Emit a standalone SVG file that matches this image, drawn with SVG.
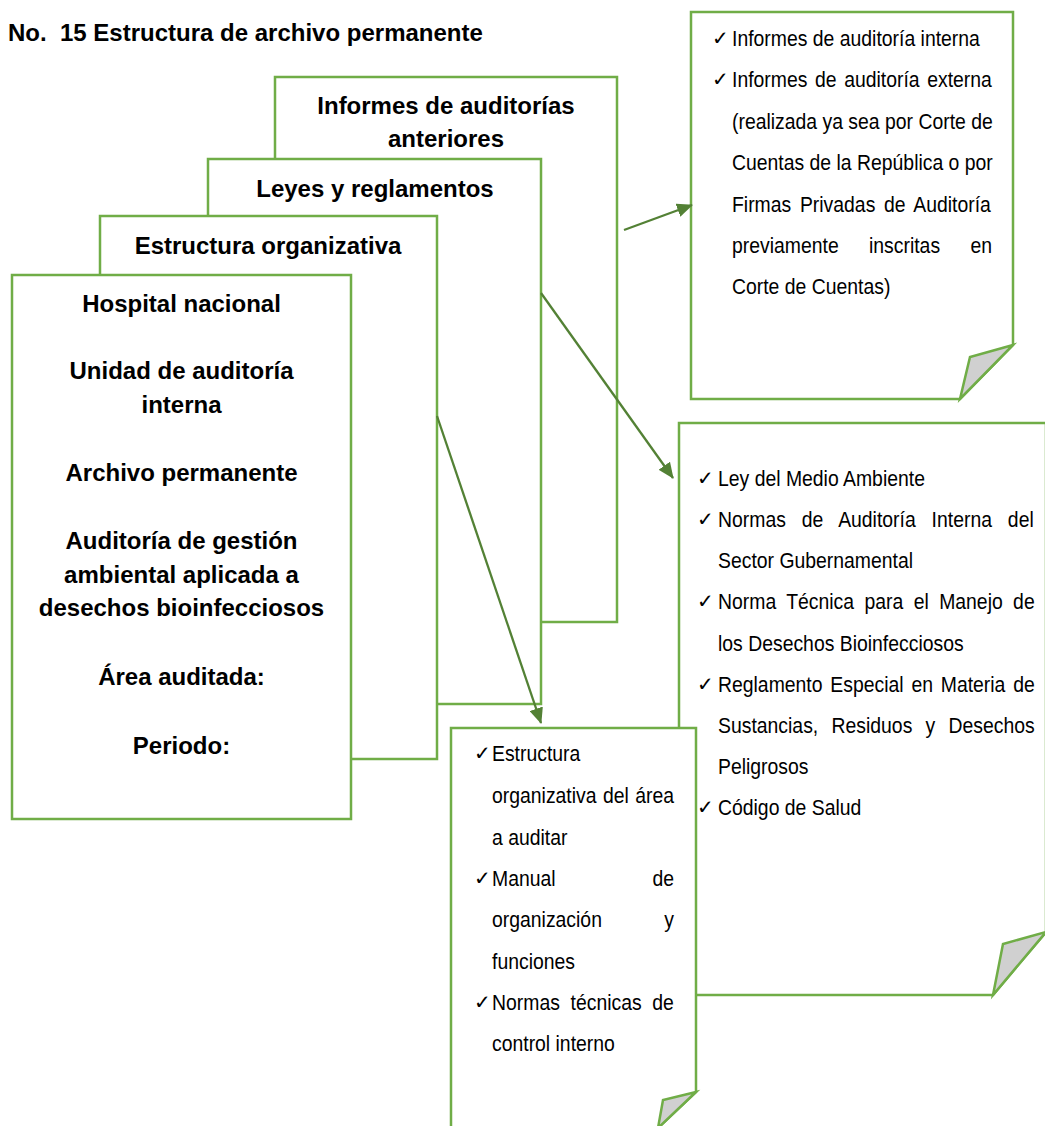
<svg xmlns="http://www.w3.org/2000/svg" width="1045" height="1126" viewBox="0 0 1045 1126">
  <style>
    .box { fill: #ffffff; stroke: #70ad47; stroke-width: 2.5; }
    .fold { fill: #d0d0d0; stroke: #70ad47; stroke-width: 2.5; stroke-linejoin: miter; }
    .hd { font-family: "Liberation Sans", Arial, sans-serif; font-weight: bold; font-size: 24px; fill: #000; text-anchor: middle; }
    .ttl { font-family: "Liberation Sans", Arial, sans-serif; font-weight: bold; font-size: 24px; fill: #000; }
    .tx { font-family: "Liberation Sans", Arial, sans-serif; font-size: 19.4px; fill: #000; }
    .end { text-anchor: end; }
    .ck { font-family: "DejaVu Sans", sans-serif; font-size: 20px; fill: #000; }
    .conn { stroke: #538135; stroke-width: 2.3; fill: none; }
  </style>
  <defs>
    <marker id="ah" viewBox="0 0 16 14" refX="15" refY="7" markerWidth="16" markerHeight="14" markerUnits="userSpaceOnUse" orient="auto">
      <path d="M0,0 L16,7 L0,14 Z" fill="#538135"/>
    </marker>
  </defs>

  <text class="ttl" x="8" y="41" xml:space="preserve">No.  15 Estructura de archivo permanente</text>

  <g id="box-informes">
    <rect class="box" x="275" y="77" width="342" height="545"/>
    <text class="hd" x="446" y="114">Informes de auditorías</text>
    <text class="hd" x="446" y="147">anteriores</text>
  </g>

  <g id="box-leyes">
    <rect class="box" x="208" y="159" width="333" height="545"/>
    <text class="hd" x="375" y="197">Leyes y reglamentos</text>
  </g>

  <g id="box-estructura">
    <rect class="box" x="100" y="216" width="337" height="543"/>
    <text class="hd" x="268" y="254">Estructura organizativa</text>
  </g>

  <g id="box-hospital">
    <rect class="box" x="12" y="275" width="339" height="544"/>
    <text class="hd" x="181.5" y="312">Hospital nacional</text>
    <text class="hd" x="181.5" y="379">Unidad de auditoría</text>
    <text class="hd" x="181.5" y="413">interna</text>
    <text class="hd" x="181.5" y="481">Archivo permanente</text>
    <text class="hd" x="181.5" y="549">Auditoría de gestión</text>
    <text class="hd" x="181.5" y="583">ambiental aplicada a</text>
    <text class="hd" x="181.5" y="616">desechos bioinfecciosos</text>
    <text class="hd" x="181.5" y="685">Área auditada:</text>
    <text class="hd" x="181.5" y="754">Periodo:</text>
  </g>

  <g id="note-informes">
    <path class="box" d="M691,12 H1013 V345 L960,399 H691 Z"/>
    <path class="fold" d="M1013,345 L970,357 L960,399 Z"/>
    <text class="ck" x="712" y="45">✓</text>
    <text class="tx" x="732" y="0" transform="translate(0,46) scale(1,1.18)">Informes de auditoría interna</text>
    <text class="ck" x="712" y="86">✓</text>
    <text class="tx" x="732" y="0" transform="translate(0,87) scale(1,1.18)" word-spacing="2.2">Informes de auditoría externa</text>
    <text class="tx" x="732" y="0" transform="translate(0,129) scale(1,1.18)">(realizada ya sea por Corte de</text>
    <text class="tx" x="732" y="0" transform="translate(0,170) scale(1,1.18)">Cuentas de la República o por</text>
    <text class="tx" x="732" y="0" transform="translate(0,212) scale(1,1.18)" word-spacing="3.3">Firmas Privadas de Auditoría</text>
    <text class="tx" x="732" y="0" transform="translate(0,253) scale(1,1.18)">previamente</text>
    <text class="tx" x="869" y="0" transform="translate(0,253) scale(1,1.18)">inscritas</text>
    <text class="tx end" x="992" y="0" transform="translate(0,253) scale(1,1.18)">en</text>
    <text class="tx" x="732" y="0" transform="translate(0,294) scale(1,1.18)">Corte de Cuentas)</text>
  </g>

  <g id="note-leyes">
    <path class="box" d="M679,423 H1046 V932 L993,995 H679 Z"/>
    <path class="fold" d="M1046,932 L1003,944 L993,995 Z"/>
    <text class="ck" x="697" y="485">✓</text>
    <text class="tx" x="718" y="0" transform="translate(0,486) scale(1,1.18)">Ley del Medio Ambiente</text>
    <text class="ck" x="697" y="526">✓</text>
    <text class="tx" x="718" y="0" transform="translate(0,527) scale(1,1.18)" word-spacing="10.5">Normas de Auditoría Interna del</text>
    <text class="tx" x="718" y="0" transform="translate(0,568) scale(1,1.18)">Sector Gubernamental</text>
    <text class="ck" x="697" y="608">✓</text>
    <text class="tx" x="718" y="0" transform="translate(0,609) scale(1,1.18)" word-spacing="5">Norma Técnica para el Manejo de</text>
    <text class="tx" x="718" y="0" transform="translate(0,650.5) scale(1,1.18)">los Desechos Bioinfecciosos</text>
    <text class="ck" x="697" y="690.5">✓</text>
    <text class="tx" x="718" y="0" transform="translate(0,691.5) scale(1,1.18)" word-spacing="2.4">Reglamento Especial en Materia de</text>
    <text class="tx" x="718" y="0" transform="translate(0,733) scale(1,1.18)" word-spacing="7.9">Sustancias, Residuos y Desechos</text>
    <text class="tx" x="718" y="0" transform="translate(0,774) scale(1,1.18)">Peligrosos</text>
    <text class="ck" x="697" y="814">✓</text>
    <text class="tx" x="718" y="0" transform="translate(0,815) scale(1,1.18)">Código de Salud</text>
  </g>

  <g id="note-estructura">
    <path class="box" d="M451,728 H696 V1092 L658,1128 H451 Z"/>
    <path class="fold" d="M696,1092 L663,1100 L658,1128 Z"/>
    <text class="ck" x="474" y="760">✓</text>
    <text class="tx" x="492" y="0" transform="translate(0,761) scale(1,1.18)">Estructura</text>
    <text class="tx" x="492" y="0" transform="translate(0,803) scale(1,1.18)" word-spacing="1">organizativa del área</text>
    <text class="tx" x="492" y="0" transform="translate(0,845) scale(1,1.18)">a auditar</text>
    <text class="ck" x="474" y="885">✓</text>
    <text class="tx" x="492" y="0" transform="translate(0,886) scale(1,1.18)">Manual</text>
    <text class="tx end" x="674" y="0" transform="translate(0,886) scale(1,1.18)">de</text>
    <text class="tx" x="492" y="0" transform="translate(0,927) scale(1,1.18)">organización</text>
    <text class="tx end" x="674" y="0" transform="translate(0,927) scale(1,1.18)">y</text>
    <text class="tx" x="492" y="0" transform="translate(0,969) scale(1,1.18)">funciones</text>
    <text class="ck" x="474" y="1009">✓</text>
    <text class="tx" x="492" y="0" transform="translate(0,1010) scale(1,1.18)" word-spacing="5.3">Normas técnicas de</text>
    <text class="tx" x="492" y="0" transform="translate(0,1051) scale(1,1.18)">control interno</text>
  </g>

  <g id="connectors">
    <line class="conn" x1="624" y1="230" x2="692" y2="205" marker-end="url(#ah)"/>
    <line class="conn" x1="541" y1="293" x2="673" y2="478" marker-end="url(#ah)"/>
    <line class="conn" x1="437" y1="416" x2="541" y2="723" marker-end="url(#ah)"/>
  </g>
</svg>
